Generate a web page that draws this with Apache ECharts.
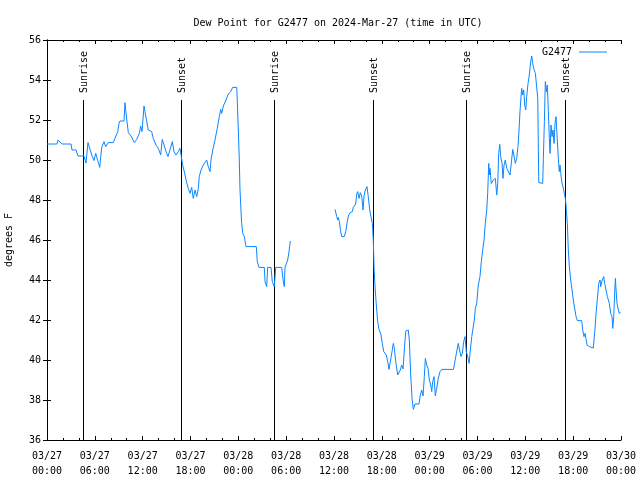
<!DOCTYPE html>
<html><head><meta charset="utf-8">
<script src="https://cdn.jsdelivr.net/npm/echarts@6/dist/echarts.min.js"></script>
<style>html,body{margin:0;padding:0;background:#fff}#c{width:640px;height:480px}</style>
</head><body><div id="c"></div>
<script>
// Hours since 2024-03-27 00:00 UTC
const HOURS = [
0,1.25,1.38,1.63,1.88,3.01,3.14,3.64,3.89,4.64,4.89,5.14,5.61,5.90,6.11,6.36,6.61,6.86,7.15,7.36,7.69,8.32,8.53,8.87,9.03,9.16,9.66,9.78,9.95,10.20,10.54,10.95,11.25,11.58,11.75,11.92,12.00,12.17,12.29,12.51,12.71,13.13,13.33,13.67,13.96,14.26,14.46,14.68,14.93,15.18,15.43,15.72,15.93,16.18,16.47,16.68,16.85,17.02,17.22,17.44,17.72,17.94,18.15,18.35,18.57,18.78,18.98,19.10,19.32,19.61,20.03,20.23,20.45,20.57,20.79,21.07,21.36,21.61,21.79,21.91,22.12,22.45,22.74,23.04,23.29,23.80,23.87,24.00,24.12,24.21,24.34,24.42,24.55,24.75,24.96,26.25,26.38,26.59,27.26,27.35,27.56,27.68,28.10,28.26,28.51,28.69,29.44,29.64,29.77,29.85,30.07,30.19,30.39,30.52,
33.0,
36.13,36.34,36.47,36.54,36.67,36.84,36.97,37.29,37.47,37.63,37.80,38.01,38.30,38.42,38.72,38.85,38.97,39.14,39.30,39.48,39.64,39.77,39.93,40.14,40.30,40.48,40.64,40.81,40.93,41.02,41.11,41.23,41.36,41.48,41.65,41.90,42.06,42.24,42.40,42.56,42.74,42.90,43.15,43.31,43.44,43.57,43.74,43.99,44.15,44.32,44.49,44.66,44.82,45.00,45.32,45.45,45.62,45.79,45.95,46.16,46.66,46.83,47.00,47.17,47.33,47.46,47.63,47.79,47.96,48.13,48.26,48.38,48.55,48.71,48.88,49.08,49.30,49.51,50.97,51.09,51.27,51.43,51.59,51.77,51.93,52.10,52.27,52.43,52.60,52.78,52.94,53.10,53.28,53.48,53.60,53.73,53.90,54.10,54.31,54.48,54.65,54.82,54.98,55.16,55.28,55.41,55.48,55.57,55.73,55.98,56.24,56.41,56.54,56.66,56.79,56.91,57.08,57.20,57.33,57.49,57.67,57.92,58.08,58.24,58.42,58.58,58.75,58.92,59.08,59.21,59.33,59.46,59.55,59.67,59.80,59.92,60.05,60.17,60.34,60.50,60.68,60.80,60.93,61.09,61.26,61.43,61.56,61.64,61.69,62.18,62.26,62.39,62.51,62.64,62.76,62.89,63.01,63.10,63.22,63.35,63.47,63.60,63.72,63.85,64.01,64.14,64.26,64.35,64.44,64.56,64.69,64.77,64.89,65.02,65.10,65.27,65.39,65.52,65.69,65.86,66.02,66.19,66.36,66.52,67.07,67.20,67.36,67.49,67.62,67.74,68.03,68.53,68.71,68.87,69.04,69.21,69.37,69.46,69.58,69.83,69.96,70.12,70.29,70.54,70.71,70.88,70.97,71.09,71.22,71.30,71.38,71.50,71.67,71.79,71.97
];
// Dew point, degrees F (null = missing data)
const DEW = [
50.8,50.8,51.0,51.0,50.8,50.8,50.5,50.5,50.2,50.2,49.85,50.87,50.25,49.97,50.33,49.97,49.63,50.63,50.92,50.67,50.87,50.87,51.08,51.42,51.83,51.95,51.95,52.87,52.2,51.37,51.2,50.87,51.03,51.33,51.7,51.42,51.33,52.7,52.42,51.92,51.5,51.42,51.08,50.75,50.58,50.25,51.03,50.75,50.42,50.17,50.17,50.92,50.42,50.25,50.42,50.58,50.17,49.75,49.42,49.0,48.58,48.33,48.63,48.08,48.5,48.17,48.58,49.17,49.5,49.75,50.0,49.67,49.42,50.0,50.5,51.0,51.58,52.17,52.53,52.33,52.7,53.0,53.3,53.42,53.63,53.63,52.92,51.5,50.0,48.5,47.42,46.83,46.33,46.17,45.67,45.67,44.92,44.63,44.63,43.92,43.67,44.63,44.63,43.92,43.67,44.63,44.63,43.92,43.67,44.63,44.63,45.0,45.5,45.95,
null,
47.53,47.17,47.0,47.13,46.92,46.42,46.17,46.17,46.42,46.83,47.2,47.37,47.42,47.63,47.8,48.3,48.42,48.08,48.37,48.2,47.5,48.2,48.5,48.67,48.17,47.5,47.17,46.83,46.0,44.67,43.92,43.17,42.5,41.92,41.53,41.25,40.83,40.42,40.5,40.25,39.92,39.53,39.53,40.5,40.83,40.58,39.92,39.25,39.2,39.5,39.75,39.55,40.5,41.45,41.5,41.0,39.25,38.08,37.53,37.8,37.8,38.25,38.5,38.2,39.17,40.08,39.75,39.58,39.0,38.75,38.42,38.92,39.17,38.2,38.58,39.08,39.42,39.53,39.53,39.75,40.17,40.5,40.83,40.45,40.17,40.33,40.92,41.17,40.42,40.17,39.83,40.5,41.17,41.17,42.0,42.58,42.83,43.75,44.17,44.92,45.5,46.0,46.83,47.5,48.37,49.83,49.25,49.58,48.83,49.0,49.08,48.25,48.83,50.33,50.78,50.17,49.83,49.08,49.75,50.0,49.58,49.58,49.25,49.25,50.53,50.2,49.83,50.08,50.67,51.5,52.42,53.17,53.58,53.25,53.5,52.75,52.5,53.17,53.83,54.25,54.92,55.2,54.83,54.53,54.33,54.4,53.08,50.25,48.87,48.83,50.08,51.92,53.92,53.42,53.75,52.42,51.08,50.33,51.75,51.17,51.5,50.83,51.83,52.17,52.17,50.08,49.42,49.75,49.37,48.92,48.83,48.58,48.33,48.08,47.75,46.83,45.5,44.67,44.0,43.5,43.0,42.58,42.17,41.97,41.97,41.5,41.17,41.33,41.03,40.75,40.67,40.6,41.42,42.33,43.08,43.83,44.0,43.67,43.9,44.17,43.83,43.5,43.17,42.83,42.33,42.17,41.58,42.17,43.5,44.08,43.5,42.83,42.5,42.33,42.4
];
const SUN_EVENTS = ['Sunrise','Sunset','Sunrise','Sunset','Sunrise','Sunset'];
const SUN_HOURS = [4.55, 16.85, 28.51, 40.93, 52.60, 65.02];
const X_TICK_DATES = ['03/27','03/27','03/27','03/27','03/28','03/28','03/28','03/28','03/29','03/29','03/29','03/29','03/30'];

const FONT = 'DejaVu Sans Mono';
const series = HOURS.map((h,i)=>[h, DEW[i]]);
const sunData = SUN_HOURS.map((h,i)=>[h, SUN_EVENTS[i]]);

const chart = echarts.init(document.getElementById('c'), null, {renderer:'canvas'});
const axisCommon = {
  type:'value', min:0, max:72, interval:6,
  axisLine:{show:true, lineStyle:{color:'#000', width:1}},
  axisTick:{show:true, inside:true, length:4, lineStyle:{color:'#000'}},
  minorTick:{show:true, splitNumber:3, length:2, lineStyle:{color:'#000'}},
  splitLine:{show:false}
};
chart.setOption({
  animation:false,
  backgroundColor:'#fff',
  title:{text:'Dew Point for G2477 on 2024-Mar-27 (time in UTC)', left:333, textAlign:'center', top:13,
    textStyle:{fontFamily:FONT, fontSize:10, fontWeight:'normal', color:'#000'}},
  legend:{right:28, top:42, align:'right', itemWidth:28, itemHeight:1, icon:'rect', itemGap:0,
    textStyle:{fontFamily:FONT, fontSize:10, color:'#000', padding:[0,2,0,0]},
    data:[{name:'G2477'}]},
  grid:{left:47, right:19, top:40, bottom:40, containLabel:false, outerBoundsMode:'none'},
  xAxis:[
    Object.assign({}, axisCommon, {position:'bottom',
      axisLabel:{fontFamily:FONT, fontSize:10, color:'#000', lineHeight:15, margin:9,
        formatter:(v)=>{const i=Math.round(v/6); const hh=String(v%24).padStart(2,'0'); return X_TICK_DATES[i]+'\n'+hh+':00';}}}),
    Object.assign({}, axisCommon, {position:'top', axisLabel:{show:false}})
  ],
  yAxis:[
    {type:'value', min:36, max:56, interval:2, position:'left',
      name:'degrees F', nameLocation:'middle', nameGap:33, nameRotate:90,
      nameTextStyle:{fontFamily:FONT, fontSize:10, color:'#000'},
      axisLine:{show:true, lineStyle:{color:'#000'}},
      axisTick:{show:true, inside:true, length:4, lineStyle:{color:'#000'}},
      axisLabel:{fontFamily:FONT, fontSize:10, color:'#000', margin:6},
      splitLine:{show:false}},
    {type:'value', min:36, max:56, interval:2, position:'right',
      axisLine:{show:true, lineStyle:{color:'#000'}},
      axisTick:{show:true, inside:true, length:4, lineStyle:{color:'#000'}},
      axisLabel:{show:false}, splitLine:{show:false}}
  ],
  series:[
    {type:'custom', name:'sun', xAxisIndex:0, yAxisIndex:0, data:sunData, silent:true, z:1,
      renderItem:(params, api)=>{
        const h = api.value(0);
        const p0 = api.coord([h, 36]);
        const p1 = api.coord([h, 53]);
        const x = Math.round(p0[0]) + 0.5;
        return {type:'group', children:[
          {type:'line', shape:{x1:x, y1:p0[1], x2:x, y2:p1[1]}, style:{stroke:'#000', lineWidth:1}},
          {type:'text', x:x+1, y:p1[1]-7, rotation:Math.PI/2,
            style:{text:sunData[params.dataIndex][1], fontFamily:FONT, fontSize:10, fill:'#000', align:'left', verticalAlign:'middle'}}
        ]};
      }},
    {type:'line', name:'G2477', data:series, showSymbol:false, connectNulls:false, z:2,
      lineStyle:{color:'#0b86ff', width:1}, itemStyle:{color:'#0b86ff'}}
  ]
});
</script></body></html>
